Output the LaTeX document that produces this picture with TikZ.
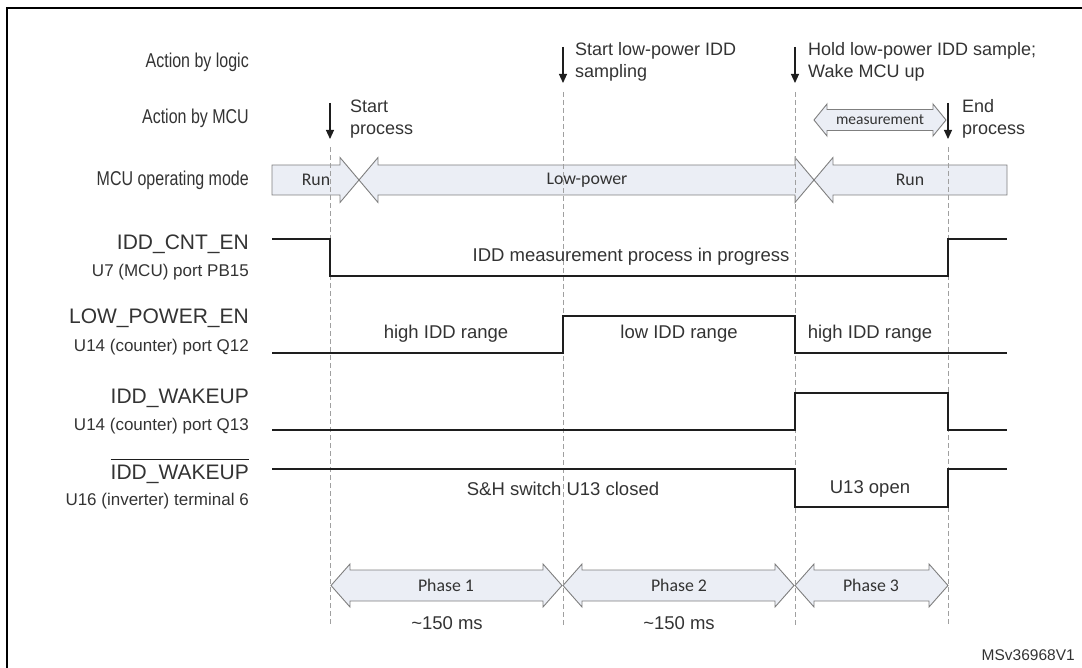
\documentclass[tikz,border=0pt]{standalone}
\usepackage{fontspec}
\setmainfont{Liberation Sans}
\newfontfamily\narrowf{Liberation Sans}[FakeStretch=0.8]
\newfontfamily\calib{Carlito}
\usetikzlibrary{arrows.meta}
\definecolor{tc}{HTML}{333333}
\definecolor{sigc}{HTML}{1E1E1E}
\definecolor{boxfill}{HTML}{EBEEF5}
\definecolor{boxline}{HTML}{7F7F7F}
\definecolor{dashc}{HTML}{A0A0A0}
\tikzset{
  lbl/.style={font=\narrowf\fontsize{20}{24}\selectfont, text=tc, anchor=east, inner sep=0pt},
  siglbl/.style={font=\fontsize{21}{24}\selectfont, text=tc, anchor=east, inner sep=0pt},
  sublbl/.style={font=\fontsize{17}{19}\selectfont, text=tc, anchor=east, inner sep=0pt},
  note/.style={font=\fontsize{18}{22}\selectfont, text=tc, anchor=west, align=left, inner sep=0pt},
  wtxt/.style={font=\fontsize{18.5}{22}\selectfont, text=tc, inner sep=0pt},
  btxt/.style={font=\calib\fontsize{17.8}{20}\selectfont, text=tc, inner sep=0pt},
  mtxt/.style={font=\calib\fontsize{15.5}{18}\selectfont, text=tc, inner sep=0pt},
  sig/.style={draw=sigc, line width=1.3pt},
  guide/.style={draw=dashc, line width=0.9pt, dash pattern=on 5pt off 3pt},
  act/.style={draw=sigc, line width=1.1pt, -{Triangle[length=9pt,width=8pt]}},
  barrow/.style={draw=boxline, fill=boxfill, line width=0.9pt, line join=miter},
}
\begin{document}
\begin{tikzpicture}[x=1pt,y=-1pt]
\useasboundingbox (0,0) rectangle (1082,668);
% frame
\draw[line width=1.6pt, black] (1082,8) -- (7,8) -- (7,668);

% row labels
\node[lbl] (lAL) at (249,62) {Action by logic};
\node[lbl] (lAM) at (249,118) {Action by MCU};
\node[lbl] (lMode) at (249,180) {MCU operating mode};
\node[siglbl] (lCnt) at (249,244) {IDD\_CNT\_EN};
\node[sublbl] (sCnt) at (249,272) {U7 (MCU) port PB15};
\node[siglbl] (lLow) at (249,318) {LOW\_POWER\_EN};
\node[sublbl] (sLow) at (249,347) {U14 (counter) port Q12};
\node[siglbl] (lWk) at (249,398) {IDD\_WAKEUP};
\node[sublbl] (sWk) at (249,426) {U14 (counter) port Q13};
\node[siglbl] (lNWk) at (249,474) {IDD\_WAKEUP};
\node[sublbl] (sNWk) at (249,501) {U16 (inverter) terminal 6};
\draw[draw=sigc, line width=1pt] ([yshift=5pt]lNWk.north west) -- ([yshift=5pt]lNWk.north east);

% mode arrows
\draw[barrow] (272,165) -- (340,165) -- (340,157.5) -- (359,180) -- (340,202.5) -- (340,195) -- (272,195) -- cycle;
\draw[barrow] (359,180) -- (378,157.5) -- (378,165) -- (795,165) -- (795,157.5) -- (814,180) -- (795,202.5) -- (795,195) -- (378,195) -- (378,202.5) -- cycle;
\draw[barrow] (814,180) -- (833,157.5) -- (833,165) -- (1007,165) -- (1007,195) -- (833,195) -- (833,202.5) -- cycle;
\node[btxt] (mRun1) at (316,180) {Run};
\node[btxt] (mLow) at (587,180) {Low-power};
\node[btxt] (mRun2) at (910,180) {Run};

% measurement arrow
\draw[barrow] (814,120) -- (827,104) -- (827,109.5) -- (933,109.5) -- (933,104) -- (946,120) -- (933,136) -- (933,130.5) -- (827,130.5) -- (827,136) -- cycle;
\node[mtxt] (meas) at (880,120) {measurement};

% phase arrows
\draw[barrow] (331,585.5) -- (350,564) -- (350,570) -- (543,570) -- (543,564) -- (562,585.5) -- (543,607) -- (543,601) -- (350,601) -- (350,607) -- cycle;
\draw[barrow] (563,585.5) -- (582,564) -- (582,570) -- (775,570) -- (775,564) -- (794,585.5) -- (775,607) -- (775,601) -- (582,601) -- (582,607) -- cycle;
\draw[barrow] (795,585.5) -- (814,564) -- (814,570) -- (929,570) -- (929,564) -- (948,585.5) -- (929,607) -- (929,601) -- (814,601) -- (814,607) -- cycle;
\node[btxt] (ph1) at (446,585.5) {Phase 1};
\node[btxt] (ph2) at (679,585.5) {Phase 2};
\node[btxt] (ph3) at (871,585.5) {Phase 3};
\node[wtxt] (d1) at (447,623) {\textasciitilde150 ms};
\node[wtxt] (d2) at (679,623) {\textasciitilde150 ms};

% guide lines
\coordinate (g1t) at (330,147); \coordinate (g1b) at (330,625);
\coordinate (g2t) at (563,92);  \coordinate (g2b) at (563,625);
\coordinate (g3t) at (795,92);  \coordinate (g3b) at (795,625);
\coordinate (g4t) at (948,147); \coordinate (g4b) at (948,625);
\draw[guide] (g1t) -- (g1b);
\draw[guide] (g2t) -- (g2b);
\draw[guide] (g3t) -- (g3b);
\draw[guide] (g4t) -- (g4b);

% action arrows
\coordinate (a1s) at (330,103); \coordinate (a1e) at (330,139);
\coordinate (a2s) at (563,47);  \coordinate (a2e) at (563,83);
\coordinate (a3s) at (795,47);  \coordinate (a3e) at (795,83);
\coordinate (a4s) at (948,103); \coordinate (a4e) at (948,139);
\draw[act] (a1s) -- (a1e);
\draw[act] (a2s) -- (a2e);
\draw[act] (a3s) -- (a3e);
\draw[act] (a4s) -- (a4e);
\node[note] (n1) at (350,119) {Start\\process};
\node[note] (n2) at (575,62) {Start low-power IDD\\sampling};
\node[note] (n3) at (808,62) {Hold low-power IDD sample;\\Wake MCU up};
\node[note] (n4) at (962,119) {End\\process};

% waveforms
\draw[sig] (272,239) -- (330,239) -- (330,276) -- (948,276) -- (948,239) -- (1007,239);
\node[wtxt] (t1) at (631,257) {IDD measurement process in progress};
\draw[sig] (272,353) -- (563,353) -- (563,316) -- (795,316) -- (795,353) -- (1007,353);
\node[wtxt] (t2) at (446,334) {high IDD range};
\node[wtxt] (t3) at (679,334) {low IDD range};
\node[wtxt] (t4) at (870,334) {high IDD range};
\draw[sig] (272,430) -- (795,430) -- (795,393) -- (948,393) -- (948,430) -- (1007,430);
\draw[sig] (272,469) -- (795,469) -- (795,507) -- (948,507) -- (948,469) -- (1007,469);
\node[wtxt] (t5) at (563,489) {S\&H switch U13 closed};
\node[wtxt] (t6) at (870,489) {U13 open};

\node[font=\fontsize{15.5}{18}\selectfont, text=tc, anchor=east, inner sep=0pt] (ms) at (1075,655) {MSv36968V1};
\end{tikzpicture}
\end{document}
